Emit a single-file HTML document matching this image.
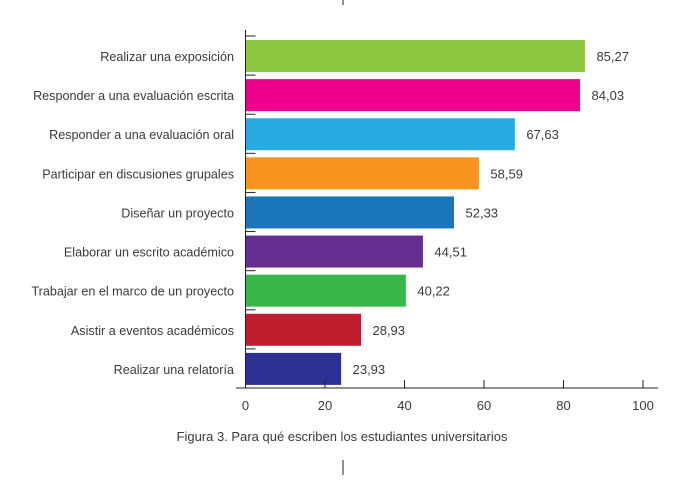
<!DOCTYPE html>
<html><head><meta charset="utf-8"><style>
body{margin:0;background:#fff;width:688px;height:477px;overflow:hidden}
svg text{font-family:"Liberation Sans",sans-serif;fill:#3a3a3a}
</style></head><body>
<svg width="688" height="477" id="chart">
<line x1="343" y1="0" x2="343" y2="5" stroke="#222"/>
<line x1="343" y1="460" x2="343" y2="475" stroke="#222"/>
<text x="342" y="441" text-anchor="middle" font-size="13">Figura 3. Para qué escriben los estudiantes universitarios</text>
</svg>
<script>
const categories=["Realizar una exposición","Responder a una evaluación escrita","Responder a una evaluación oral","Participar en discusiones grupales","Diseñar un proyecto","Elaborar un escrito académico","Trabajar en el marco de un proyecto","Asistir a eventos académicos","Realizar una relatoría"];
const values=[85.27,84.03,67.63,58.59,52.33,44.51,40.22,28.93,23.93];
const colors=["#8cc63f","#ec008c","#29abe2","#f7941d","#1b75bb","#662d91","#39b54a","#be1e2d","#2e3192"];
const ticks=[0,20,40,60,80,100];
const svg=document.getElementById('chart');
const NS="http://www.w3.org/2000/svg";
const x0=245.5,x1=643,yTop=36,yBot=388;
const xs=v=>x0+(v/100)*(x1-x0);
const band=(yBot-yTop)/categories.length;
function mk(t,a){const e=document.createElementNS(NS,t);for(const k in a)e.setAttribute(k,a[k]);svg.appendChild(e);return e;}
let ax=mk('line',{x1:x0,y1:30,x2:x0,y2:yBot,stroke:'#222'});


let xa=mk('line',{x1:236,y1:yBot,x2:658,y2:yBot,stroke:'#222'});


for(let i=0;i<=categories.length;i++){
 const y=yTop+i*band;
 let t=mk('line',{x1:x0,y1:y,x2:x0+10,y2:y,stroke:'#222'});
 
 
}
categories.forEach((c,i)=>{
 const y=yTop+i*band+4;
 let r=mk('rect',{x:x0+0.5,y:y,width:xs(values[i])-x0,height:32,fill:colors[i]});
 
 
 let l=mk('text',{x:234,y:y+21,'text-anchor':'end','font-size':'12.6'});
 l.textContent=c;
 
 
 let v=mk('text',{x:xs(values[i])+12,y:y+21,'font-size':'13'});
 v.textContent=values[i].toFixed(2).replace('.',',');
 
 
});
ticks.forEach(t=>{
 const x=xs(t);
 let l=mk('line',{x1:x,y1:yBot-8,x2:x,y2:yBot,stroke:'#222'});
 
 
 let tx=mk('text',{x:x,y:yBot+22,'text-anchor':'middle','font-size':'13'});
 tx.textContent=t;
 
 
});
</script>
</body></html>
